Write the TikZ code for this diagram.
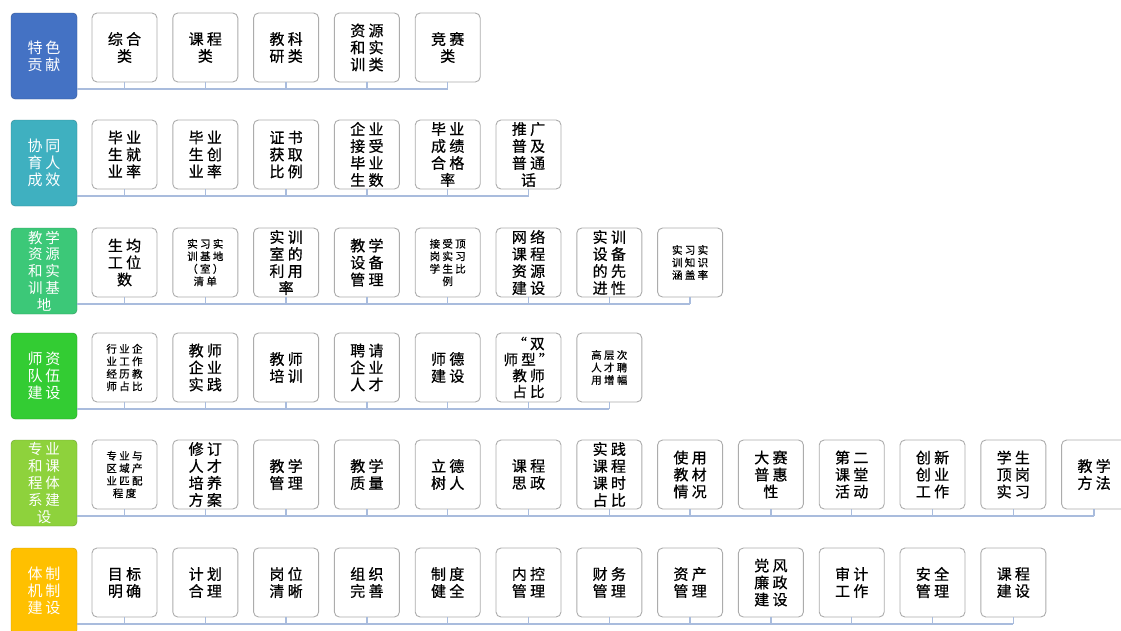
\documentclass[tikz,border=0pt]{standalone}
\usepackage{fontspec}
\setmainfont{Noto Sans CJK SC}
\newfontfamily\boxfont{Noto Sans CJK SC}[LetterSpace=22, FakeBold=0.6]
\newfontfamily\headfont{Noto Sans CJK SC}[LetterSpace=18]
\usepackage{xcolor}
\usepackage{tikz}
\usetikzlibrary{positioning}

\definecolor{hdblue}{HTML}{4472C4}
\definecolor{hdteal}{HTML}{3FB0C0}
\definecolor{hdgreen}{HTML}{3CC878}
\definecolor{hdlime}{HTML}{33CC33}
\definecolor{hdolive}{HTML}{8ED23C}
\definecolor{hdgold}{HTML}{FFC000}
\definecolor{buscol}{HTML}{A9BCDD}

\begin{document}
\begin{tikzpicture}[
    x=1pt, y=1pt,
    node distance = 0pt and 15.8pt,
    head/.style = {rectangle, rounded corners=4pt, minimum width=66pt, minimum height=86pt, inner sep=0pt, outer sep=0pt, align=center, text=white, font=\headfont\fontsize{15}{17}\selectfont},
    item/.style = {rectangle, draw=gray!65, fill=white, line width=0.9pt, rounded corners=5pt, minimum width=65pt, minimum height=69pt, inner sep=0pt, outer sep=0pt, align=center, font=\boxfont\fontsize{15}{17}\selectfont},
    tiny/.style = {font=\boxfont\fontsize{10.5}{12.5}\selectfont},
    link/.style = {draw=buscol, line width=1.3pt}
]
    \useasboundingbox (0,0) rectangle (1121,-630);

    % row 1
    \node [head, fill=hdblue, draw=hdblue!75!black, anchor=north west] (ts) at (11,-13) {特色\\贡献};
    \node [item, right=15pt of ts.north east, anchor=north west] (ts1) {综合\\类};
    \node [item, right=of ts1] (ts2) {课程\\类};
    \node [item, right=of ts2] (ts3) {教科\\研类};
    \node [item, right=of ts3] (ts4) {资源\\和实\\训类};
    \node [item, right=of ts4] (ts5) {竞赛\\类};

    % row 2
    \node [head, fill=hdteal, draw=hdteal!75!black, anchor=north west] (xt) at (11,-120) {协同\\育人\\成效};
    \node [item, right=15pt of xt.north east, anchor=north west] (xt1) {毕业\\生就\\业率};
    \node [item, right=of xt1] (xt2) {毕业\\生创\\业率};
    \node [item, right=of xt2] (xt3) {证书\\获取\\比例};
    \node [item, right=of xt3] (xt4) {企业\\接受\\毕业\\生数};
    \node [item, right=of xt4] (xt5) {毕业\\成绩\\合格\\率};
    \node [item, right=of xt5] (xt6) {推广\\普及\\普通\\话};

    % row 3
    \node [head, fill=hdgreen, draw=hdgreen!75!black, anchor=north west, font=\headfont\fontsize{14.5}{16.8}\selectfont] (jx) at (11,-228) {教学\\资源\\和实\\训基\\地};
    \node [item, right=15pt of jx.north east, anchor=north west] (jx1) {生均\\工位\\数};
    \node [item, tiny, right=of jx1] (jx2) {实习实\\训基地\\（室）\\清单};
    \node [item, right=of jx2] (jx3) {实训\\室的\\利用\\率};
    \node [item, right=of jx3] (jx4) {教学\\设备\\管理};
    \node [item, tiny, right=of jx4] (jx5) {接受顶\\岗实习\\学生比\\例};
    \node [item, right=of jx5] (jx6) {网络\\课程\\资源\\建设};
    \node [item, right=of jx6] (jx7) {实训\\设备\\的先\\进性};
    \node [item, tiny, right=of jx7] (jx8) {实习实\\训知识\\涵盖率};

    % row 4
    \node [head, fill=hdlime, draw=hdlime!75!black, anchor=north west] (sz) at (11,-333) {师资\\队伍\\建设};
    \node [item, tiny, right=15pt of sz.north east, anchor=north west] (sz1) {行业企\\业工作\\经历教\\师占比};
    \node [item, right=of sz1] (sz2) {教师\\企业\\实践};
    \node [item, right=of sz2] (sz3) {教师\\培训};
    \node [item, right=of sz3] (sz4) {聘请\\企业\\人才};
    \node [item, right=of sz4] (sz5) {师德\\建设};
    \node [item, right=of sz5, font=\boxfont\fontsize{14.5}{16}\selectfont] (sz6) {“双\\师型”\\教师\\占比};
    \node [item, tiny, right=of sz6] (sz7) {高层次\\人才聘\\用增幅};

    % row 5
    \node [head, fill=hdolive, draw=hdolive!75!black, anchor=north west, font=\headfont\fontsize{14.5}{16.8}\selectfont] (zy) at (11,-440) {专业\\和课\\程体\\系建\\设};
    \node [item, tiny, right=15pt of zy.north east, anchor=north west] (zy1) {专业与\\区域产\\业匹配\\程度};
    \node [item, right=of zy1] (zy2) {修订\\人才\\培养\\方案};
    \node [item, right=of zy2] (zy3) {教学\\管理};
    \node [item, right=of zy3] (zy4) {教学\\质量};
    \node [item, right=of zy4] (zy5) {立德\\树人};
    \node [item, right=of zy5] (zy6) {课程\\思政};
    \node [item, right=of zy6] (zy7) {实践\\课程\\课时\\占比};
    \node [item, right=of zy7] (zy8) {使用\\教材\\情况};
    \node [item, right=of zy8] (zy9) {大赛\\普惠\\性};
    \node [item, right=of zy9] (zy10) {第二\\课堂\\活动};
    \node [item, right=of zy10] (zy11) {创新\\创业\\工作};
    \node [item, right=of zy11] (zy12) {学生\\顶岗\\实习};
    \node [item, right=of zy12] (zy13) {教学\\方法};

    % row 6
    \node [head, fill=hdgold, draw=hdgold!80!black, anchor=north west] (tz) at (11,-548) {体制\\机制\\建设};
    \node [item, right=15pt of tz.north east, anchor=north west] (tz1) {目标\\明确};
    \node [item, right=of tz1] (tz2) {计划\\合理};
    \node [item, right=of tz2] (tz3) {岗位\\清晰};
    \node [item, right=of tz3] (tz4) {组织\\完善};
    \node [item, right=of tz4] (tz5) {制度\\健全};
    \node [item, right=of tz5] (tz6) {内控\\管理};
    \node [item, right=of tz6] (tz7) {财务\\管理};
    \node [item, right=of tz7] (tz8) {资产\\管理};
    \node [item, right=of tz8] (tz9) {党风\\廉政\\建设};
    \node [item, right=of tz9] (tz10) {审计\\工作};
    \node [item, right=of tz10] (tz11) {安全\\管理};
    \node [item, right=of tz11] (tz12) {课程\\建设};

    % buses
    \foreach \row/\last in {ts/5, xt/6, jx/8, sz/7, zy/13, tz/12} {
        \coordinate [below=7pt of \row\last.south] (\row bus);
        \path [link] (\row.east |- \row bus) -- (\row bus);
        \foreach \i in {1,...,\last}
            \path [link] (\row\i.south) -- (\row\i.south |- \row bus);
    }
\end{tikzpicture}
\end{document}
